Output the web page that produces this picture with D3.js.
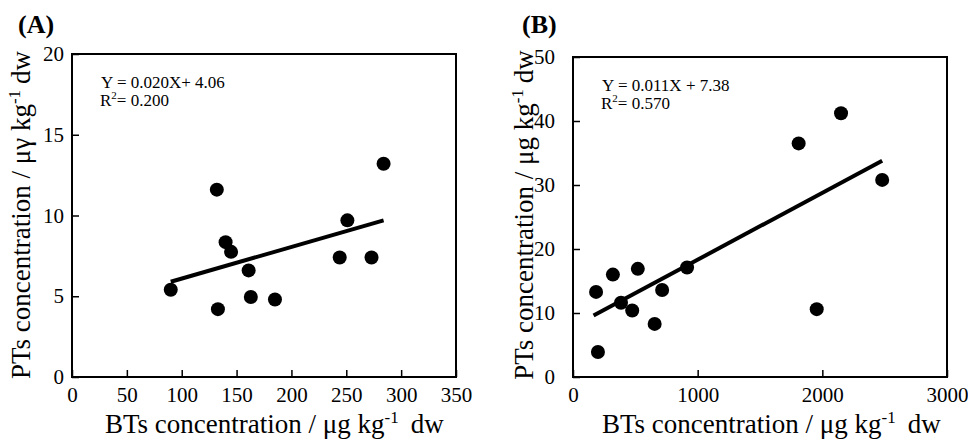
<!DOCTYPE html>
<html>
<head>
<meta charset="utf-8">
<style>
  body { margin: 0; background: #fff; }
  text { font-family: "Liberation Serif", "Times New Roman", serif; fill: #000; }
  .frame { fill: none; stroke: #000; stroke-width: 2px; }
  .axis path { display: none; }
  .axis line { stroke: #000; stroke-width: 1.5px; }
  .axis text { font-family: "Liberation Serif", serif; font-size: 21px; }
  .dot { fill: #000; }
  .fit { stroke: #000; stroke-width: 4px; }
</style>
</head>
<body>
<script src="https://cdn.jsdelivr.net/npm/d3@7"></script>
<script>
// panel A: BTs vs PTs (µg/kg dw)
const btsA = [90, 133, 132, 140, 145, 161, 163, 185, 244, 251, 273, 284];
const ptsA = [5.4, 4.2, 11.6, 8.35, 7.75, 6.6, 4.95, 4.8, 7.4, 9.7, 7.4, 13.2];
const fitA = [[90, 5.9], [284, 9.7]];
const xTicksA = [0, 50, 100, 150, 200, 250, 300, 350];
const yTicksA = [0, 5, 10, 15, 20];

// panel B
const btsB = [185, 200, 320, 385, 475, 520, 655, 715, 915, 1810, 1955, 2150, 2480];
const ptsB = [13.3, 3.9, 16.0, 11.6, 10.4, 16.9, 8.3, 13.6, 17.1, 36.5, 10.6, 41.2, 30.8];
const fitB = [[165, 9.6], [2480, 33.8]];
const xTicksB = [0, 1000, 2000, 3000];
const yTicksB = [0, 10, 20, 30, 40, 50];

const svg = d3.select("body").append("svg")
  .attr("width", 968)
  .attr("height", 439);

function panel(opt) {
  const x = d3.scaleLinear().domain([0, opt.xmax]).range([opt.left, opt.right]);
  const y = d3.scaleLinear().domain([0, opt.ymax]).range([opt.bottom, opt.top]);

  svg.append("g")
    .attr("class", "axis")
    .attr("transform", `translate(0,${opt.bottom})`)
    .call(d3.axisBottom(x).tickValues(opt.xTicks).tickFormat(d3.format("d"))
      .tickSizeInner(-7).tickSizeOuter(0).tickPadding(10))
    .attr("font-family", "Liberation Serif, serif")
    .attr("font-size", 21);

  svg.append("g")
    .attr("class", "axis")
    .attr("transform", `translate(${opt.left},0)`)
    .call(d3.axisLeft(y).tickValues(opt.yTicks).tickSizeInner(-7).tickSizeOuter(0).tickPadding(opt.ypad))
    .attr("font-family", "Liberation Serif, serif")
    .attr("font-size", 21);

  svg.append("rect")
    .attr("class", "frame")
    .attr("x", opt.left).attr("y", opt.top)
    .attr("width", opt.right - opt.left)
    .attr("height", opt.bottom - opt.top);

  svg.append("line")
    .attr("class", "fit")
    .attr("x1", x(opt.fit[0][0])).attr("y1", y(opt.fit[0][1]))
    .attr("x2", x(opt.fit[1][0])).attr("y2", y(opt.fit[1][1]));

  svg.append("g").selectAll("circle")
    .data(opt.xs.map((d, i) => [d, opt.ys[i]]))
    .join("circle")
    .attr("class", "dot")
    .attr("r", 7)
    .attr("cx", d => x(d[0]))
    .attr("cy", d => y(d[1]));

  // equation
  svg.append("text")
    .attr("x", opt.left + 29).attr("y", opt.top + 34)
    .style("font-size", "17px")
    .text(opt.eq);
  const r2 = svg.append("text")
    .attr("x", opt.left + 28).attr("y", opt.top + 52)
    .style("font-size", "17px");
  r2.append("tspan").text("R");
  r2.append("tspan").attr("dy", -7).style("font-size", "11px").text("2");
  r2.append("tspan").attr("dy", 7).text("= " + opt.r2);

  // panel letter
  svg.append("text")
    .attr("x", opt.letterX).attr("y", 33)
    .style("font-size", "26px")
    .style("font-weight", "bold")
    .text(opt.letter);

  // x title
  const xt = svg.append("text")
    .attr("x", opt.xTitleX).attr("y", 433)
    .style("font-size", "27px");
  xt.append("tspan").text("BTs concentration / \u03bcg kg");
  xt.append("tspan").attr("dy", -10).style("font-size", "17px").text("-1");
  xt.append("tspan").attr("dy", 10).attr("dx", 12).text("dw");

  // y title
  const yt = svg.append("text")
    .attr("transform", `translate(${opt.yTitleX},215) rotate(-90)`)
    .attr("text-anchor", "middle")
    .style("font-size", "27px");
  yt.append("tspan").text("PTs concentration / \u03bc" + opt.unitG + " kg");
  yt.append("tspan").attr("dy", -10).style("font-size", "17px").text("-1");
  yt.append("tspan").attr("dy", 10).attr("dx", 6).text("dw");
}

panel({
  left: 72, right: 456, top: 54, bottom: 377,
  xmax: 350, ymax: 20, xTicks: xTicksA, yTicks: yTicksA, ypad: 8,
  xs: btsA, ys: ptsA, fit: fitA,
  eq: "Y = 0.020X+ 4.06", r2: "0.200",
  letter: "(A)", letterX: 18, xTitleX: 105, yTitleX: 30, unitG: "\u03b3"
});

panel({
  left: 573, right: 947, top: 57, bottom: 377,
  xmax: 3000, ymax: 50, xTicks: xTicksB, yTicks: yTicksB, ypad: 18,
  xs: btsB, ys: ptsB, fit: fitB,
  eq: "Y = 0.011X + 7.38", r2: "0.570",
  letter: "(B)", letterX: 522, xTitleX: 602, yTitleX: 533, unitG: "g"
});
</script>
</body>
</html>
